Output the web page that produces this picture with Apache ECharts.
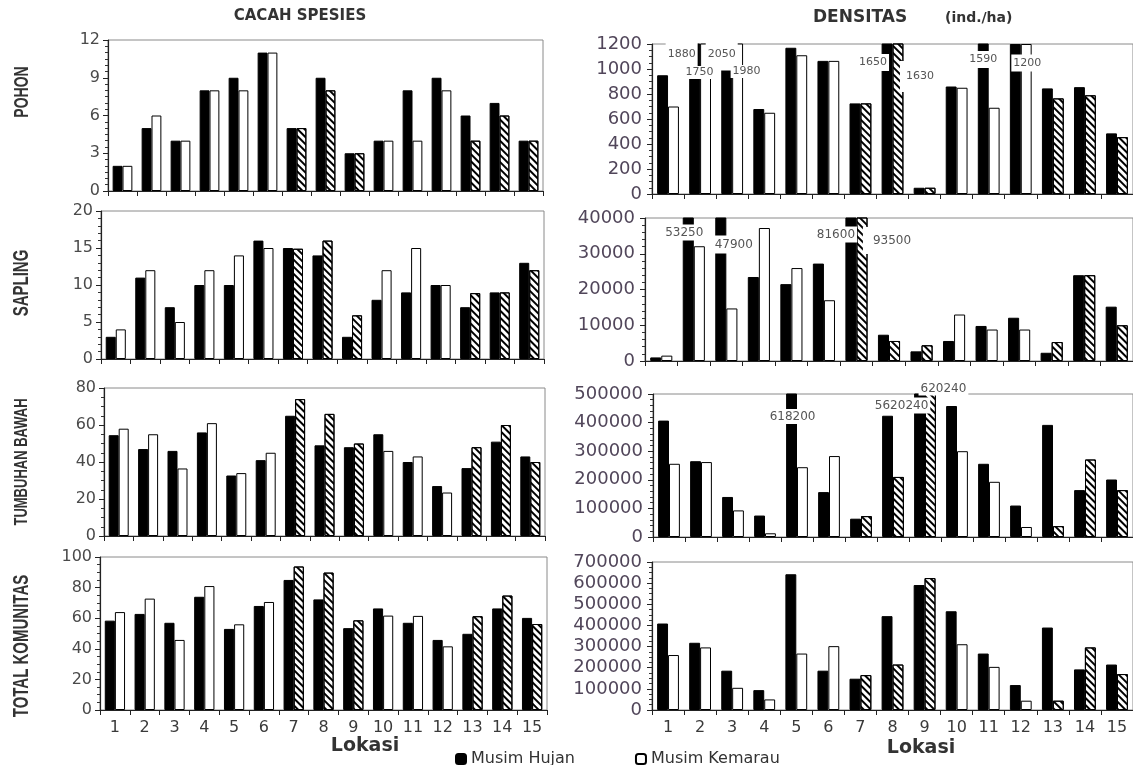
<!DOCTYPE html>
<html>
<head>
<meta charset="utf-8">
<script src="https://cdn.jsdelivr.net/npm/echarts@6/dist/echarts.min.js"></script>
<style>
  html, body { margin: 0; padding: 0; background: #fff; }
  #chart { width: 1133px; height: 765px; }
</style>
</head>
<body>
<div id="chart"></div>
<script>
// Locations along the x axis
const lokasi = ['1', '2', '3', '4', '5', '6', '7', '8', '9', '10', '11', '12', '13', '14', '15'];

// Number of species (cacah spesies)
const pohonSpesiesHujan = [2, 5, 4, 8, 9, 11, 5, 9, 3, 4, 8, 9, 6, 7, 4];
const pohonSpesiesKemarau = [2, 6, 4, 8, 8, 11, 5, 8, 3, 4, 4, 8, 4, 6, 4];
const saplingSpesiesHujan = [3, 11, 7, 10, 10, 16, 15, 14, 3, 8, 9, 10, 7, 9, 13];
const saplingSpesiesKemarau = [4, 12, 5, 12, 14, 15, 14.9, 16, 5.9, 12, 15, 10, 8.9, 9, 12];
const tumbuhanSpesiesHujan = [54.5, 47, 46, 56, 32.7, 41, 65, 49, 48, 55, 40, 27, 36.7, 51, 43];
const tumbuhanSpesiesKemarau = [58, 55, 36.5, 61, 34, 45, 74, 66, 50, 46, 43, 23.5, 48, 60, 40];
const totalSpesiesHujan = [58.4, 62.8, 57, 74, 53, 68, 85, 72.3, 53.5, 66.4, 57, 45.8, 49.8, 66.4, 60.2];
const totalSpesiesKemarau = [64, 72.8, 45.8, 81, 56, 70.6, 93.8, 89.8, 58.6, 61.7, 61.5, 41.6, 61.3, 74.8, 56.2];

// Density (ind./ha)
const pohonDensitasHujan = [950, 1880, 2050, 680, 1170, 1065, 725, 1650, 50, 860, 1590, 1200, 845, 855, 485];
const pohonDensitasKemarau = [700, 1750, 1980, 650, 1110, 1065, 725, 1630, 50, 850, 690, 1200, 765, 790, 455];
const saplingDensitasHujan = [1000, 53250, 47900, 23500, 21500, 27250, 81600, 7350, 2700, 5600, 9800, 12100, 2300, 24000, 15200];
const saplingDensitasKemarau = [1500, 32100, 14700, 37200, 26000, 17000, 93500, 5600, 4400, 13000, 8800, 8800, 5300, 24000, 10000];
const tumbuhanDensitasHujan = [407000, 265000, 140000, 75000, 618200, 157000, 64000, 424000, 5620240, 458000, 256000, 110000, 392000, 164000, 201000];
const tumbuhanDensitasKemarau = [256000, 262000, 93000, 13000, 244000, 283000, 73000, 210000, 620240, 300000, 193000, 35000, 38000, 271000, 164000];
const totalDensitasHujan = [409000, 318000, 186000, 94000, 642000, 186000, 148000, 444000, 591000, 467000, 267000, 118000, 390000, 192000, 215000];
const totalDensitasKemarau = [260000, 296000, 105000, 50000, 267000, 302000, 165000, 215000, 624000, 311000, 204000, 44000, 44000, 296000, 170000];

// Locations whose dry-season bars are drawn hatched
const lokasiArsir = [7, 8, 9, 13, 14, 15];

const seriesNames = ['Musim Hujan', 'Musim Kemarau'];

// Panel layout: [left, top, width, height] in px
const panels = [
  { key: 'pohonS', data: [pohonSpesiesHujan, pohonSpesiesKemarau], max: 12, interval: 3, minor: 6, rect: [108, 40, 435, 151], xLabels: false, dens: false },
  { key: 'saplingS', data: [saplingSpesiesHujan, saplingSpesiesKemarau], max: 20, interval: 5, minor: 5, rect: [101, 211, 443, 148], xLabels: false, dens: false },
  { key: 'tumbuhanS', data: [tumbuhanSpesiesHujan, tumbuhanSpesiesKemarau], max: 80, interval: 20, minor: 4, rect: [104, 388, 441, 148], xLabels: false, dens: false },
  { key: 'totalS', data: [totalSpesiesHujan, totalSpesiesKemarau], max: 100, interval: 20, minor: 4, rect: [100, 557, 447, 153], xLabels: true, dens: false },
  { key: 'pohonD', data: [pohonDensitasHujan, pohonDensitasKemarau], max: 1200, interval: 200, minor: 4, rect: [652, 44, 486, 150], xLabels: false, dens: true },
  { key: 'saplingD', data: [saplingDensitasHujan, saplingDensitasKemarau], max: 40000, interval: 10000, minor: 5, rect: [645, 218, 493, 143], xLabels: false, dens: true },
  { key: 'tumbuhanD', data: [tumbuhanDensitasHujan, tumbuhanDensitasKemarau], max: 500000, interval: 100000, minor: 5, rect: [653, 394, 485, 143], xLabels: false, dens: true },
  { key: 'totalD', data: [totalDensitasHujan, totalDensitasKemarau], max: 700000, interval: 100000, minor: 4, rect: [652, 562, 486, 148], xLabels: true, dens: true }
];

// Value labels on the broken (off-scale) bars: offset from bar top and white padding that opens the break
const breakLabels = {
  'pohonD-0-2': { dx: -13, dy: 11, pad: [1, 2, 20, 2], size: 11 },
  'pohonD-0-3': { dx: -5, dy: 11, pad: [1, 2, 20, 2], size: 11 },
  'pohonD-1-2': { dx: -6, dy: 29, pad: [1, 2, 1, 2], size: 11 },
  'pohonD-1-3': { dx: 9, dy: 28, pad: [1, 2, 1, 2], size: 11 },
  'pohonD-0-8': { dx: -14, dy: 19, pad: [4, 2, 2, 2], size: 11 },
  'pohonD-1-8': { dx: 20, dy: 33, pad: [16, 2, 4, 6], size: 11 },
  'pohonD-0-11': { dx: 0, dy: 16, pad: [3, 2, 3, 2], size: 11 },
  'pohonD-0-12': { dx: 12, dy: 19, pad: [2, 2, 4, 2], size: 11 },
  'saplingD-0-2': { dx: -4, dy: 15, pad: [2, 2, 2, 2], size: 12 },
  'saplingD-0-3': { dx: 13, dy: 27, pad: [3, 2, 3, 2], size: 12 },
  'saplingD-0-7': { dx: -15, dy: 17, pad: [2, 2, 2, 2], size: 12 },
  'saplingD-1-7': { dx: 26, dy: 23, pad: [12, 2, 3, 10], size: 12 },
  'tumbuhanD-0-5': { dx: 1, dy: 23, pad: [2, 2, 1, 2], size: 12 },
  'tumbuhanD-0-9': { dx: -18, dy: 12, pad: [2, 2, 2, 2], size: 12 },
  'tumbuhanD-1-9': { dx: 13, dy: -5, pad: [1, 2, 1, 2], size: 12 }
};

const FONT = "'DejaVu Sans', 'Liberation Sans', sans-serif";

const grids = [], xAxes = [], yAxes = [], series = [];

panels.forEach((p, gi) => {
  grids.push({
    left: p.rect[0], top: p.rect[1], width: p.rect[2], height: p.rect[3],
    show: true, borderColor: '#8a8a8a', borderWidth: 1, containLabel: false
  });
  xAxes.push({
    type: 'category', gridIndex: gi, data: lokasi,
    axisLine: { show: true, lineStyle: { color: '#222', width: 1.2 } },
    axisTick: { show: true, interval: 0, length: 5, lineStyle: { color: '#222' } },
    axisLabel: { show: p.xLabels, interval: 0, fontFamily: FONT, fontSize: 16, color: '#3a3a3a', margin: 10 },
    splitLine: { show: false }
  });
  yAxes.push({
    type: 'value', gridIndex: gi, min: 0, max: p.max, interval: p.interval,
    axisLine: { show: true, lineStyle: { color: '#222', width: 1.2 } },
    axisTick: { show: true, length: 5, lineStyle: { color: '#222' } },
    minorTick: { show: true, splitNumber: p.minor, length: 3, lineStyle: { color: '#333' } },
    splitLine: { show: false },
    axisLabel: {
      fontFamily: FONT, fontSize: p.dens ? 18 : 16,
      color: p.dens ? '#51465a' : '#4a4a4a', margin: p.dens ? 10 : 8,
      formatter: v => String(v)
    }
  });
  p.data.forEach((values, si) => {
    series.push({
      type: 'bar', name: seriesNames[si], xAxisIndex: gi, yAxisIndex: gi,
      barWidth: '34%', barGap: '0%', clip: true,
      itemStyle: si === 0
        ? { color: '#000', borderColor: '#000', borderWidth: 1 }
        : { color: '#fff', borderColor: '#000', borderWidth: 1 },
      data: values.map((v, i) => {
        const loc = i + 1;
        const item = { value: v };
        if (si === 1 && lokasiArsir.includes(loc)) {
          item.itemStyle = {
            color: '#fff', borderColor: '#000', borderWidth: 1,
            decal: {
              symbol: 'rect', symbolSize: 1, color: '#000',
              dashArrayX: [1, 0], dashArrayY: [2, 3], rotation: Math.PI / 4
            }
          };
        }
        const b = breakLabels[p.key + '-' + si + '-' + loc];
        if (b) {
          item.label = {
            show: true, position: ['50%', 0], offset: [b.dx, b.dy],
            align: 'center', verticalAlign: 'middle',
            formatter: String(v), fontFamily: FONT, fontSize: b.size, color: '#555',
            backgroundColor: '#fff', padding: b.pad
          };
        }
        return item;
      })
    });
  });
});

const rowLabel = (text, y, size) => ({
  type: 'text', x: 22, y: y, rotation: Math.PI / 2, scaleY: 1.45,
  style: { text: text, font: 'bold ' + size + "px 'Liberation Sans', Arial, sans-serif", fill: '#333', align: 'center', verticalAlign: 'middle' }
});
const plainText = (text, x, y, font, align) => ({
  type: 'text', x: x, y: y,
  style: { text: text, font: font, fill: '#333', align: align || 'center', verticalAlign: 'middle' }
});

const chart = echarts.init(document.getElementById('chart'), null, { renderer: 'canvas' });
chart.setOption({
  animation: false,
  backgroundColor: '#fff',
  grid: grids,
  xAxis: xAxes,
  yAxis: yAxes,
  series: series,
  legend: {
    data: seriesNames, left: 450, top: 745, itemWidth: 10, itemHeight: 10, itemGap: 60,
    textStyle: { fontFamily: FONT, fontSize: 16, lineHeight: 18, color: '#333' }
  },
  graphic: [
    plainText('CACAH SPESIES', 300, 16, "bold 15px 'DejaVu Sans', sans-serif"),
    plainText('DENSITAS', 813, 18, "bold 17px 'DejaVu Sans', sans-serif", 'left'),
    plainText('(ind./ha)', 945, 18, "bold 14px 'DejaVu Sans', sans-serif", 'left'),
    rowLabel('POHON', 92, 14),
    rowLabel('SAPLING', 283, 15),
    rowLabel('TUMBUHAN BAWAH', 462, 13),
    rowLabel('TOTAL KOMUNITAS', 646, 15),
    plainText('Lokasi', 365, 746, "bold 19px 'DejaVu Sans', sans-serif"),
    plainText('Lokasi', 921, 748, "bold 19px 'DejaVu Sans', sans-serif")
  ]
});
</script>
</body>
</html>
